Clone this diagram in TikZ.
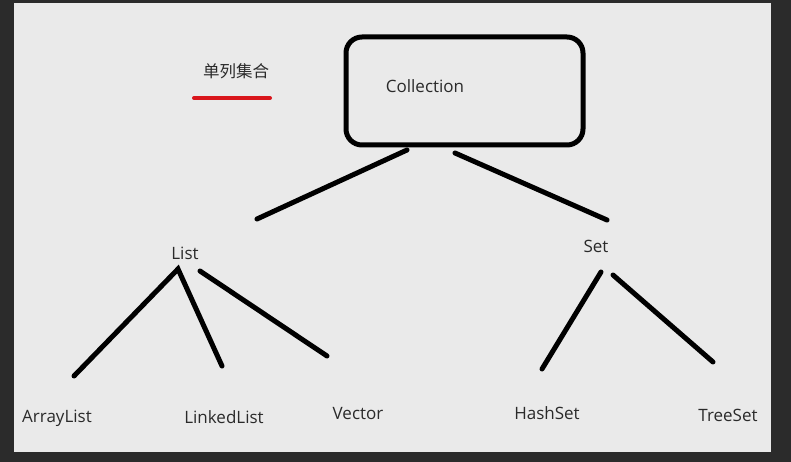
\documentclass[tikz,border=0pt]{standalone}
\usepackage{fontspec}
\setmainfont{Open Sans}
\newfontfamily\cjk{Noto Sans CJK SC}
\usetikzlibrary{calc}
\definecolor{frame}{HTML}{2B2B2B}
\definecolor{paper}{HTML}{EAEAEA}
\definecolor{ink}{HTML}{2A2A2A}
\definecolor{redline}{HTML}{D9161C}
\tikzset{
  stroke/.style={line width=5pt,line cap=round},
  lbl/.style={text=ink,font=\fontsize{17}{20}\selectfont,inner sep=0pt}
}

\begin{document}
\begin{tikzpicture}[x=1pt,y=-1pt]
    \fill[frame] (0,0) rectangle (791,462);
    \fill[paper] (14,3) rectangle (771,452);
    % title
    \node[lbl,font=\cjk\fontsize{16.5}{20}\selectfont] (title) at (236,71) {单列集合};
    \draw[redline,line width=4pt,line cap=round] (194,98) -- (270,98);
    % root box
    \draw[line width=5pt,rounded corners=16pt] (346,37) rectangle (583,145);
    \node[lbl] (coll) at (425,86) {Collection};
    \node[lbl] (list) at (185,253) {List};
    \node[lbl] (set) at (596,246) {Set};
    \node[lbl] (alist) at (57,418) {ArrayList};
    \node[lbl] (llist) at (224,417) {LinkedList};
    \node[lbl] (vec) at (358,414) {Vector};
    \node[lbl] (hset) at (547,413) {HashSet};
    \node[lbl] (tset) at (728,415) {TreeSet};
    % stroke ends
    \coordinate (c1) at (407,150); \coordinate (l0) at (257,219);
    \coordinate (c2) at (455,153); \coordinate (s0) at (607,220);
    \coordinate (l1) at (178,269); \coordinate (a1) at (74,376);
    \coordinate (l2) at (178,269); \coordinate (k1) at (222,366);
    \coordinate (l3) at (200,271); \coordinate (v1) at (327,356);
    \coordinate (s1) at (601,272); \coordinate (h1) at (542,369);
    \coordinate (s2) at (613,275); \coordinate (t1) at (713,362);
    \draw[stroke] (c1) -- (l0);
    \draw[stroke] (c2) -- (s0);
    \draw[stroke] (a1) -- (l1) -- (k1);
    \draw[stroke] (l3) -- (v1);
    \draw[stroke] (s1) -- (h1);
    \draw[stroke] (s2) -- (t1);
\end{tikzpicture}
\end{document}
